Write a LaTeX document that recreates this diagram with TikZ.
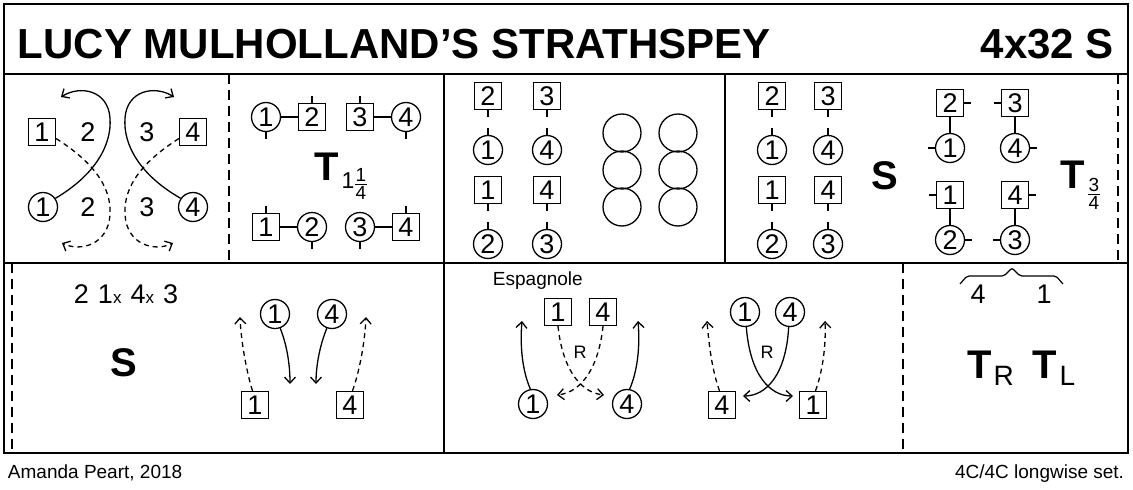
\documentclass[tikz,border=0pt]{standalone}
\usepackage{fontspec}
\setmainfont{Liberation Sans}
\usetikzlibrary{arrows.meta,positioning}

\newcommand{\numfont}{\fontsize{27}{27}\selectfont}
\newcommand{\bigfont}{\fontsize{40}{40}\selectfont\bfseries}
\newcommand{\frcfont}{\fontsize{19}{19}\selectfont}
\newcommand{\sx}{{\fontsize{17}{17}\selectfont x}}

\begin{document}
\begin{tikzpicture}[x=1pt,y=-1pt,>={Straight Barb[length=6pt,width=11pt]},line width=1.3pt,node distance=46pt]
  \tikzstyle{man}=[draw,rectangle,minimum size=27pt,inner sep=0pt,font=\numfont]
  \tikzstyle{lady}=[draw,circle,minimum size=29pt,inner sep=0pt,font=\numfont]
  \tikzstyle{num}=[font=\numfont]
  \tikzstyle{big}=[font=\bigfont]
  \tikzstyle{frc}=[inner sep=0pt,font=\frcfont]
  \tikzstyle{frame}=[line width=1.6pt]
  \tikzstyle{rpt}=[line width=1.6pt,dash pattern=on 10pt off 6pt]
  \tikzstyle{track}=[dash pattern=on 5pt off 4pt]
\useasboundingbox (0,0) rectangle (1133,490);
\draw[frame] (4,4) rectangle (1128,453);
\draw[frame] (4,74) -- (1128,74);
\draw[frame] (4,263) -- (1128,263);
\draw[frame] (444,74) -- (444,453);
\draw[frame] (725,74) -- (725,263);
\draw[rpt] (229,74) -- (229,263);
\draw[rpt] (1118,74) -- (1118,263);
\draw[rpt] (12,263) -- (12,453);
\draw[rpt] (903,263) -- (903,453);
\node[anchor=base west,font=\fontsize{42}{42}\selectfont\bfseries] (title) at (14,58) {LUCY MULHOLLAND’S STRATHSPEY};
\node[anchor=base east,font=\fontsize{42}{42}\selectfont\bfseries] (form) at (1118,58) {4x32 S};
\node[anchor=base west,font=\fontsize{19}{19}\selectfont] (author) at (4,478) {Amanda Peart, 2018};
\node[anchor=base east,font=\fontsize{19}{19}\selectfont] (set) at (1128,478) {4C/4C longwise set.};

\node[man] (am1) at (42,132) {1};
\node[num] (a2t) at (88,132) {2};
\node[num] (a3t) at (147,132) {3};
\node[man] (am4) at (193,132) {4};
\node[lady] (al1) at (43,207) {1};
\node[num] (a2b) at (88,207) {2};
\node[num] (a3b) at (147,207) {3};
\node[lady] (al4) at (193,207) {4};
\coordinate (a1end) at (61,97);
\coordinate (a4end) at (174,97);
\coordinate (a1dend) at (62,243);
\coordinate (a4dend) at (173,243);
\draw[->] (al1.35) .. controls (95,175) and (112,145) .. (110,118) .. controls (108,90) and (80,85) .. (a1end);
\draw[->] (al4.145) .. controls (140,175) and (123,145) .. (125,118) .. controls (127,90) and (155,85) .. (a4end);
\draw[->,track] (am1.-25) .. controls (90,160) and (112,185) .. (110,215) .. controls (108,245) and (80,252) .. (a1dend);
\draw[->,track] (am4.205) .. controls (145,160) and (123,185) .. (125,215) .. controls (127,245) and (155,252) .. (a4dend);

\node[lady] (bl1) at (266,117) {1};
\node[man] (bm2) [right of=bl1] {2};
\node[man] (bm3) at (360,117) {3};
\node[lady] (bl4) [right of=bm3] {4};
\node[man] (bm1) at (266,227) {1};
\node[lady] (bl2) [right of=bm1] {2};
\node[lady] (bl3) at (360,227) {3};
\node[man] (bm4) [right of=bl3] {4};
\draw (bl1) -- (bm2);
\draw (bm3) -- (bl4);
\draw (bm1) -- (bl2);
\draw (bl3) -- (bm4);
\draw (bl1.south) -- ++(0,7);
\draw (bm2.north) -- ++(0,-7);
\draw (bm3.north) -- ++(0,-7);
\draw (bl4.south) -- ++(0,7);
\draw (bm1.north) -- ++(0,-7);
\draw (bl2.south) -- ++(0,7);
\draw (bl3.south) -- ++(0,7);
\draw (bm4.north) -- ++(0,-7);
\node[big,anchor=base] (bt) at (327,180) {T};
\node[anchor=base west,inner sep=0pt,font=\fontsize{23}{23}\selectfont] (bsub) at (341,188) {1};
\node[frc] (bnum) at (361,175) {1};
\node[frc] (bden) at (361,193) {4};
\draw[line width=0.8pt] (355,184) -- (367,184);

\node[man] (cm2) at (488,96) {2};
\node[man] (cm3) at (547,96) {3};
\node[lady] (cl1) at (488,150) {1};
\node[lady] (cl4) at (547,150) {4};
\node[man] (cm1) at (488,190) {1};
\node[man] (cm4) at (547,190) {4};
\node[lady] (cl2) at (488,244) {2};
\node[lady] (cl3) at (547,244) {3};
\draw (cm2.south) -- ++(0,7);
\draw (cm3.south) -- ++(0,7);
\draw (cm1.south) -- ++(0,7);
\draw (cm4.south) -- ++(0,7);
\draw (cl1.north) -- ++(0,-7);
\draw (cl4.north) -- ++(0,-7);
\draw (cl2.north) -- ++(0,-7);
\draw (cl3.north) -- ++(0,-7);
\draw (622,133) circle (19pt);
\draw (622,170) circle (19pt);
\draw (622,207) circle (19pt);
\draw (678,133) circle (19pt);
\draw (678,170) circle (19pt);
\draw (678,207) circle (19pt);

\node[man] (dm2) at (772,96) {2};
\node[man] (dm3) at (828,96) {3};
\node[lady] (dl1) at (772,150) {1};
\node[lady] (dl4) at (828,150) {4};
\node[man] (dm1) at (772,190) {1};
\node[man] (dm4) at (828,190) {4};
\node[lady] (dl2) at (772,244) {2};
\node[lady] (dl3) at (828,244) {3};
\draw (dm2.south) -- ++(0,7);
\draw (dm3.south) -- ++(0,7);
\draw (dm1.south) -- ++(0,7);
\draw (dm4.south) -- ++(0,7);
\draw (dl1.north) -- ++(0,-7);
\draw (dl4.north) -- ++(0,-7);
\draw (dl2.north) -- ++(0,-7);
\draw (dl3.north) -- ++(0,-7);
\node[big] (ds) at (885,176) {S};
\node[man] (sm2) at (950,103) {2};
\node[man] (sm3) at (1015,103) {3};
\node[lady] (sl1) at (950,148) {1};
\node[lady] (sl4) at (1015,148) {4};
\node[man] (sm1) at (950,195) {1};
\node[man] (sm4) at (1015,195) {4};
\node[lady] (sl2) at (950,240) {2};
\node[lady] (sl3) at (1015,240) {3};
\draw (sm2) -- (sl1);
\draw (sm3) -- (sl4);
\draw (sm1) -- (sl2);
\draw (sm4) -- (sl3);
\draw (sm2.east) -- ++(7,0);
\draw (sm3.west) -- ++(-7,0);
\draw (sl1.west) -- ++(-7,0);
\draw (sl4.east) -- ++(7,0);
\draw (sm1.west) -- ++(-7,0);
\draw (sm4.east) -- ++(7,0);
\draw (sl2.east) -- ++(7,0);
\draw (sl3.west) -- ++(-7,0);
\node[big,anchor=base] (dt) at (1073,188) {T};
\node[frc] (dnum) at (1094,185) {3};
\node[frc] (dden) at (1094,203) {4};
\draw[line width=0.8pt] (1088,194) -- (1100,194);

\node[anchor=base west,num] (ecall) at (70,303) {2\hspace{9pt}1\sx\hspace{9pt}4\sx\hspace{9pt}3};
\node[big] (es) at (124,363) {S};
\node[lady] (el1) at (275,314) {1};
\node[lady] (el4) at (332,314) {4};
\node[man] (em1) at (255,405) {1};
\node[man] (em4) at (350,405) {4};
\coordinate (e1end) at (290,384);
\coordinate (e4end) at (316,384);
\coordinate (e1dend) at (240,317);
\coordinate (e4dend) at (366,317);
\draw[->] (el1.-70) .. controls (287,345) and (290,365) .. (e1end);
\draw[->] (el4.-110) .. controls (320,345) and (316,365) .. (e4end);
\draw[->,track] (em1.100) .. controls (246,370) and (241,340) .. (e1dend);
\draw[->,track] (em4.80) .. controls (360,370) and (365,340) .. (e4dend);

\node[anchor=base west,font=\fontsize{19}{19}\selectfont] (fesp) at (489,285) {Espagnole};
\node[man] (fm1) at (558,312) {1};
\node[man] (fm4) at (603,312) {4};
\node[lady] (fl1) at (533,404) {1};
\node[lady] (fl4) at (627,404) {4};
\coordinate (f1end) at (522,321);
\coordinate (f4end) at (638,321);
\coordinate (f1dend) at (604,395);
\coordinate (f4dend) at (557,395);
\draw[->] (fl1.100) .. controls (522,370) and (520,345) .. (f1end);
\draw[->] (fl4.80) .. controls (638,370) and (640,345) .. (f4end);
\draw[->,track] (fm1.south) .. controls (562,365) and (578,392) .. (f1dend);
\draw[->,track] (fm4.south) .. controls (599,365) and (583,392) .. (f4dend);
\node[font=\fontsize{18}{18}\selectfont] (fr1) at (580,352) {R};
\node[lady] (gl1) at (745,312) {1};
\node[lady] (gl4) at (790,312) {4};
\node[man] (gm4) at (722,405) {4};
\node[man] (gm1) at (813,405) {1};
\coordinate (g4dend) at (707,321);
\coordinate (g1dend) at (825,321);
\coordinate (g1end) at (793,396);
\coordinate (g4end) at (743,396);
\draw[->,track] (gm4.100) .. controls (712,370) and (709,345) .. (g4dend);
\draw[->,track] (gm1.80) .. controls (823,370) and (826,345) .. (g1dend);
\draw[->] (gl1.-85) .. controls (750,375) and (770,396) .. (g1end);
\draw[->] (gl4.-95) .. controls (786,375) and (766,396) .. (g4end);
\node[font=\fontsize{18}{18}\selectfont] (fr2) at (767,352) {R};

\draw[line width=1.2pt,rounded corners=2pt] (960,284) -- (967,276) -- (1004,276) -- (1012,268) -- (1020,276) -- (1056,276) -- (1063,284);
\node[num] (h4) at (978,294) {4};
\node[num] (h1) at (1044,294) {1};
\node[big,anchor=base] (ht1) at (980,378) {T};
\node[anchor=base west,inner sep=0pt,font=\fontsize{28}{28}\selectfont] (hr) at (993,385) {R};
\node[big,anchor=base] (ht2) at (1045,378) {T};
\node[anchor=base west,inner sep=0pt,font=\fontsize{28}{28}\selectfont] (hl) at (1059,385) {L};
\end{tikzpicture}
\end{document}
